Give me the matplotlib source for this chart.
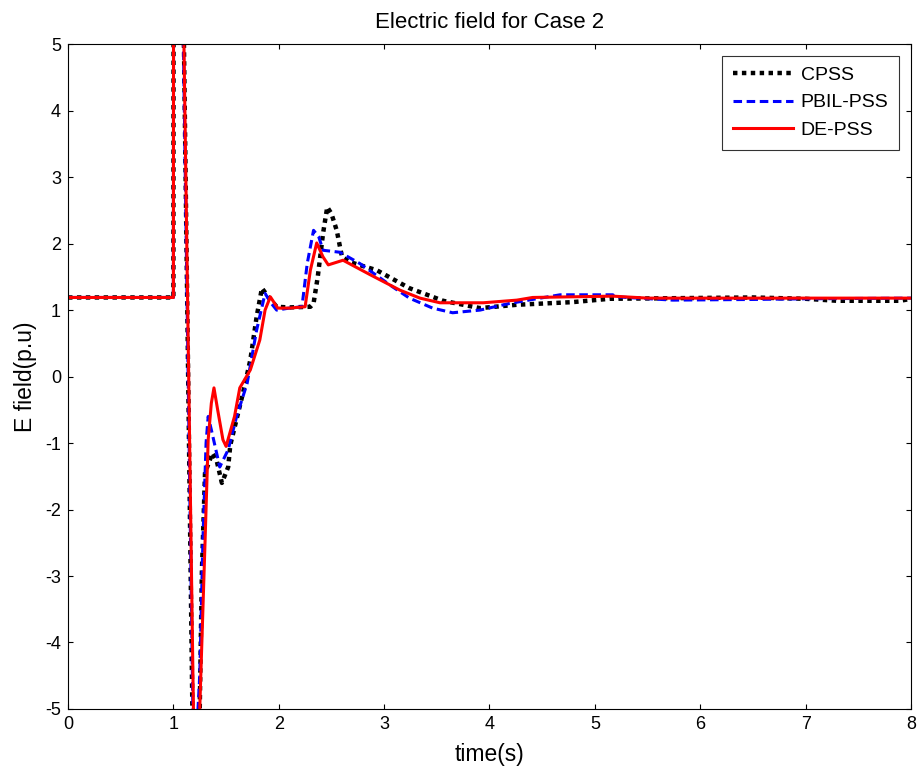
import numpy as np
import matplotlib.pyplot as plt

plt.rcParams['font.family'] = ['Liberation Sans', 'DejaVu Sans']
plt.rcParams['axes.unicode_minus'] = False

# CPSS response
t_cpss = [0, 1.0, 1.002, 1.07, 1.10, 1.18, 1.215, 1.25, 1.27, 1.30, 1.37, 1.41,
          1.46, 1.52, 1.54, 1.66, 1.73, 1.79, 1.84, 1.90, 1.98, 2.10, 2.30, 2.33,
          2.37, 2.42, 2.46, 2.50, 2.55, 2.60, 2.68, 2.93, 3.24, 3.56, 3.91, 4.26,
          4.79, 5.14, 6.50, 7.00, 7.30, 7.90, 8.0]
e_cpss = [1.19, 1.19, 8.0, 8.0, 5.0, -5.0, -5.4, -5.0, -2.95, -1.45, -1.15, -1.26,
          -1.6, -1.36, -1.03, -0.25, 0.25, 0.9, 1.33, 1.2, 1.05, 1.04, 1.05, 1.1,
          1.5, 2.15, 2.55, 2.45, 2.2, 1.8, 1.72, 1.6, 1.33, 1.14, 1.03, 1.08,
          1.12, 1.17, 1.19, 1.17, 1.14, 1.14, 1.17]

# PBIL-PSS response
t_pbil = [0, 1.0, 1.002, 1.07, 1.095, 1.185, 1.22, 1.25, 1.28, 1.31, 1.33, 1.36,
          1.44, 1.52, 1.60, 1.70, 1.79, 1.87, 1.93, 1.98, 2.10, 2.22, 2.27, 2.33,
          2.38, 2.42, 2.58, 2.77, 3.08, 3.24, 3.46, 3.65, 3.91, 4.19, 4.48, 4.67,
          5.17, 5.20, 5.74, 6.50, 7.00, 8.0]
e_pbil = [1.19, 1.19, 8.0, 8.0, 5.0, -5.0, -5.4, -4.5, -2.46, -1.0, -0.6, -0.8,
          -1.36, -1.1, -0.6, -0.1, 0.7, 1.25, 1.1, 1.0, 1.03, 1.05, 1.7, 2.2,
          2.1, 1.9, 1.87, 1.7, 1.35, 1.18, 1.03, 0.96, 1.0, 1.1, 1.18, 1.23,
          1.23, 1.2, 1.15, 1.16, 1.17, 1.18]

# DE-PSS response
t_de = [0, 1.0, 1.002, 1.07, 1.10, 1.19, 1.22, 1.25, 1.30, 1.33, 1.36, 1.385,
        1.42, 1.47, 1.50, 1.58, 1.63, 1.73, 1.82, 1.87, 1.92, 1.99, 2.10, 2.25,
        2.30, 2.36, 2.42, 2.47, 2.61, 2.87, 3.15, 3.34, 3.53, 3.94, 4.26, 4.41,
        5.17, 5.50, 8.0]
e_de = [1.19, 1.19, 8.0, 8.0, 5.0, -5.0, -5.3, -5.0, -2.5, -0.95, -0.4, -0.17,
        -0.5, -0.95, -1.05, -0.6, -0.17, 0.1, 0.55, 1.0, 1.2, 1.03, 1.03, 1.05,
        1.6, 2.01, 1.8, 1.68, 1.75, 1.53, 1.3, 1.18, 1.11, 1.11, 1.15, 1.19,
        1.21, 1.18, 1.18]

fig = plt.figure(figsize=(9.22, 7.75), dpi=100)
ax = fig.add_axes([0.0738, 0.0852, 0.9142, 0.8578])

ax.plot(t_cpss, e_cpss, color='black', linestyle=(0, (1, 1.0)), linewidth=3.2,
        label='CPSS')
ax.plot(t_pbil, e_pbil, color='blue', linestyle=(0, (2.8, 1.5)), linewidth=2.2,
        label='PBIL-PSS')
ax.plot(t_de, e_de, color='red', linestyle='-', linewidth=2.2, label='DE-PSS')

ax.set_xlim(0, 8)
ax.set_ylim(-5, 5)
ax.set_xticks(np.arange(0, 9, 1))
ax.set_yticks(np.arange(-5, 6, 1))
ax.tick_params(direction='in', top=True, right=True, labelsize=13, pad=5)
ax.set_xlabel('time(s)', fontsize=16.5, labelpad=7)
ax.set_ylabel('E field(p.u)', fontsize=16.5, labelpad=6)
ax.set_title('Electric field for Case 2', fontsize=16, pad=12)

leg = ax.legend(loc='upper right', fontsize=14, fancybox=False, edgecolor='black',
                handlelength=3.1, handletextpad=0.4, borderaxespad=0.6,
                labelspacing=0.5, borderpad=0.55)
leg.get_frame().set_linewidth(0.8)

fig.savefig('out.png', dpi=100)
